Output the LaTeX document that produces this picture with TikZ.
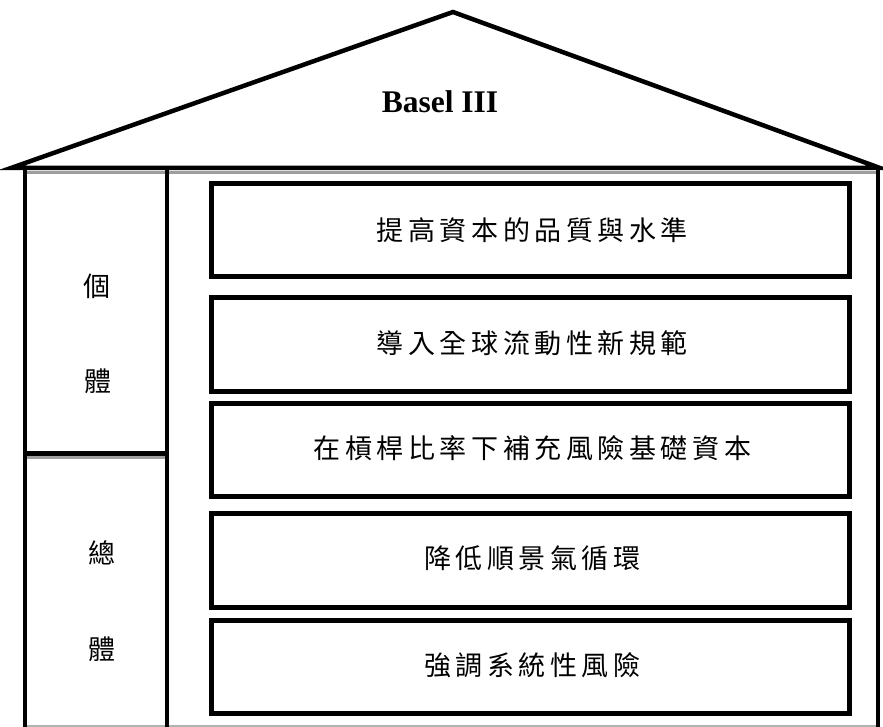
\documentclass[tikz,border=0pt]{standalone}
\usepackage{fontspec}
\setmainfont{Liberation Serif}
\newfontfamily\cjk[LetterSpace=17]{Noto Sans CJK TC}
\newfontfamily\cjkplain{Noto Sans CJK TC}
\tikzset{
  shade/.style={line width=3pt, draw=black!38},
  pillar/.style={draw, line width=5pt, minimum width=638pt, inner sep=0pt,
    font=\cjk\fontsize{27}{30}\selectfont},
  sidetext/.style={font=\cjkplain\fontsize{27}{30}\selectfont, inner sep=0pt},
}
\begin{document}
\begin{tikzpicture}[x=1pt,y=-1pt]
\useasboundingbox (0,0) rectangle (883,727);
% roof
\coordinate (rl) at (11,168);
\coordinate (apex) at (453,12);
\coordinate (rr) at (880,168);
\draw[line width=4.5pt, line join=miter] (rl) -- (apex) -- (rr) -- cycle;
\node[font=\bfseries\fontsize{31.5}{34}\selectfont, inner sep=0pt] (title) at (440,102) {Basel III};
% shading lines
\coordinate (s1a) at (25,172.5); \coordinate (s1b) at (878,172.5);
\draw[shade] (s1a) -- (s1b);
\coordinate (s2a) at (25,457); \coordinate (s2b) at (165,457);
\draw[shade] (s2a) -- (s2b);
\coordinate (s3a) at (25,726); \coordinate (s3b) at (878,726);
\draw[line width=1.5pt, draw=black!30] (s3a) -- (s3b);
% walls
\coordinate (w1t) at (25,168); \coordinate (w1b) at (25,727);
\coordinate (w2t) at (167,168); \coordinate (w2b) at (167,727);
\coordinate (w3t) at (878,168); \coordinate (w3b) at (878,727);
\draw[line width=4.5pt] (w1t) -- (w1b);
\draw[line width=4pt] (w2t) -- (w2b);
\draw[line width=4.5pt] (w3t) -- (w3b);
\coordinate (dl) at (23,453); \coordinate (dr) at (167,453);
\draw[line width=5pt] (dl) -- (dr);
% side texts
\node[sidetext] (t1) at (97,286) {個};
\node[sidetext] (t2) at (98,381) {體};
\node[sidetext] (t3) at (102,553) {總};
\node[sidetext] (t4) at (102,649) {體};
% pillars
\node[pillar, minimum height=93pt] (b1) at (530,230.5) {\raisebox{3pt}{提高資本的品質與水準\hspace{-4.6pt}}};
\node[pillar, minimum height=94pt] (b2) at (530,344) {\raisebox{3pt}{導入全球流動性新規範\hspace{-4.6pt}}};
\node[pillar, minimum height=93pt] (b3) at (530,449.5) {\raisebox{5pt}{在槓桿比率下補充風險基礎資本\hspace{-4.6pt}}};
\node[pillar, minimum height=94pt] (b4) at (530,560) {\raisebox{6pt}{降低順景氣循環\hspace{-4.6pt}}};
\node[pillar, minimum height=93pt] (b5) at (530,666.5) {\raisebox{5pt}{強調系統性風險\hspace{-4.6pt}}};
\end{tikzpicture}
\end{document}
